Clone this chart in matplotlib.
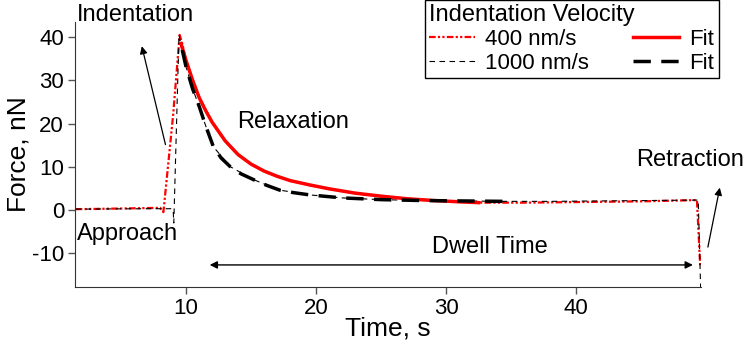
import matplotlib
matplotlib.use("Agg")
import matplotlib.pyplot as plt

plt.rcParams["font.family"] = ["Liberation Sans", "DejaVu Sans"]
plt.rcParams["font.size"] = 17
plt.rcParams["axes.unicode_minus"] = False

# raw force curve, 400 nm/s
t_400 = [1.5, 3.0, 5.0, 7.0, 8.0, 8.25, 9.0, 9.5, 9.7, 10.0, 10.5, 11.0, 12.0, 13.0,
         14.0, 15.0, 16.0, 17.0, 18.0, 19.5, 21.0, 23.0, 25.0, 27.0, 29.0, 31.0,
         33.0, 36.0, 39.0, 42.0, 45.0, 48.0, 49.3, 49.55]
f_400 = [0.2, 0.25, 0.35, 0.45, 0.5, -0.5, 22.0, 40.5, 38.5, 34.5, 30.0, 26.0, 20.3, 16.0,
         12.8, 10.6, 9.0, 7.8, 6.8, 5.8, 4.9, 3.9, 3.2, 2.6, 2.2, 1.9,
         1.7, 1.7, 1.8, 1.9, 2.0, 2.2, 2.3, -13.0]

# raw force curve, 1000 nm/s
t_1000 = [1.5, 4.0, 7.0, 8.9, 9.0, 9.05, 9.45, 9.6, 10.0, 10.5, 11.0, 11.5, 12.1, 13.4,
          15.2, 17.2, 19.5, 22.0, 25.0, 28.0, 31.0, 34.5, 38.0, 42.0, 46.0, 49.4, 49.6]
f_1000 = [0.2, 0.25, 0.3, 0.3, 0.0, -3.0, 40.5, 38.0, 33.0, 28.0, 24.0, 19.5, 14.6, 10.0,
          7.0, 4.6, 3.5, 2.8, 2.4, 2.2, 2.1, 2.0, 2.0, 2.1, 2.2, 2.3, -20.0]

# relaxation fits
t_fit_400 = [9.6, 10.0, 10.5, 11.0, 11.5, 12.0, 13.0, 14.0, 15.0, 16.0, 17.0, 18.0,
             19.5, 21.0, 23.0, 25.0, 27.0, 29.0, 31.0, 32.5]
f_fit_400 = [38.5, 34.5, 30.0, 26.0, 23.0, 20.3, 16.0, 12.8, 10.6, 9.0, 7.8, 6.8,
             5.8, 4.9, 3.9, 3.2, 2.6, 2.2, 1.9, 1.7]
t_fit_1000 = [9.7, 10.0, 10.5, 11.0, 11.5, 12.1, 12.7, 13.4, 14.2, 15.2, 16.2, 17.2,
              18.3, 19.5, 22.0, 25.0, 28.0, 31.0, 34.5]
f_fit_1000 = [37.0, 33.0, 28.0, 24.0, 19.5, 14.6, 12.0, 10.0, 8.4, 7.0, 5.7, 4.6,
              4.0, 3.5, 2.8, 2.4, 2.2, 2.1, 2.0]

fig = plt.figure(figsize=(7.44, 3.53), dpi=100)
ax = fig.add_axes([0.101, 0.187, 0.841, 0.751])

l1, = ax.plot(t_400, f_400, color="red", lw=1.6, linestyle=(0, (3, 1, 1, 1, 1, 1)),
              label="400 nm/s", zorder=3)
l2, = ax.plot(t_1000, f_1000, color="black", lw=0.8, linestyle=(0, (5, 4)),
              label="1000 nm/s", zorder=3)
l3, = ax.plot(t_fit_400, f_fit_400, color="red", lw=2.5, label="Fit", zorder=4)
l4, = ax.plot(t_fit_1000, f_fit_1000, color="black", lw=2.5, linestyle=(0, (5, 3)),
              label="Fit", zorder=4)

ax.set_xlim(1.46, 49.6)
ax.set_ylim(-17.8, 43.5)
ax.set_xticks([10, 20, 30, 40])
ax.set_yticks([-10, 0, 10, 20, 30, 40])
ax.set_xlabel("Time, s", fontsize=19, labelpad=-2)
ax.set_ylabel("Force, nN", fontsize=19, labelpad=1)
for spine in ["top", "right"]:
    ax.spines[spine].set_visible(False)
for spine in ["left", "bottom"]:
    ax.spines[spine].set_color("#333333")
ax.tick_params(direction="out", length=5, width=1, color="#555555", pad=3, labelsize=16)

# annotations
ax.text(1.6, 45.2, "Indentation", ha="left", va="center", clip_on=False)
ax.annotate("", xy=(6.54, 38.5), xytext=(8.46, 14.5),
            arrowprops=dict(arrowstyle="-|>", color="black", lw=0.9, mutation_scale=11))
ax.text(1.6, -5.5, "Approach", ha="left", va="center")
ax.text(13.9, 20.3, "Relaxation", ha="left", va="center")
ax.text(33.4, -8.5, "Dwell Time", ha="center", va="center")
ax.annotate("", xy=(11.6, -12.7), xytext=(49.2, -12.7),
            arrowprops=dict(arrowstyle="<|-|>", color="black", lw=1.0, mutation_scale=11))
ax.text(44.6, 11.5, "Retraction", ha="left", va="center", clip_on=False)
ax.annotate("", xy=(51.1, 5.8), xytext=(50.1, -9.2), annotation_clip=False,
            arrowprops=dict(arrowstyle="-|>", color="black", lw=0.9, mutation_scale=11))

leg = fig.legend(handles=[l1, l2, l3, l4], ncol=2, title="Indentation Velocity",
                 loc="upper right", bbox_to_anchor=(0.966, 1.0), fontsize=16,
                 title_fontsize=17, alignment="left", fancybox=False, frameon=True,
                 edgecolor="black", framealpha=1, handlelength=2.07, handletextpad=0.45,
                 columnspacing=2.0, labelspacing=0.12, borderpad=0.2, borderaxespad=0)
leg.get_frame().set_linewidth(1.0)

fig.savefig("out.png", dpi=100)
